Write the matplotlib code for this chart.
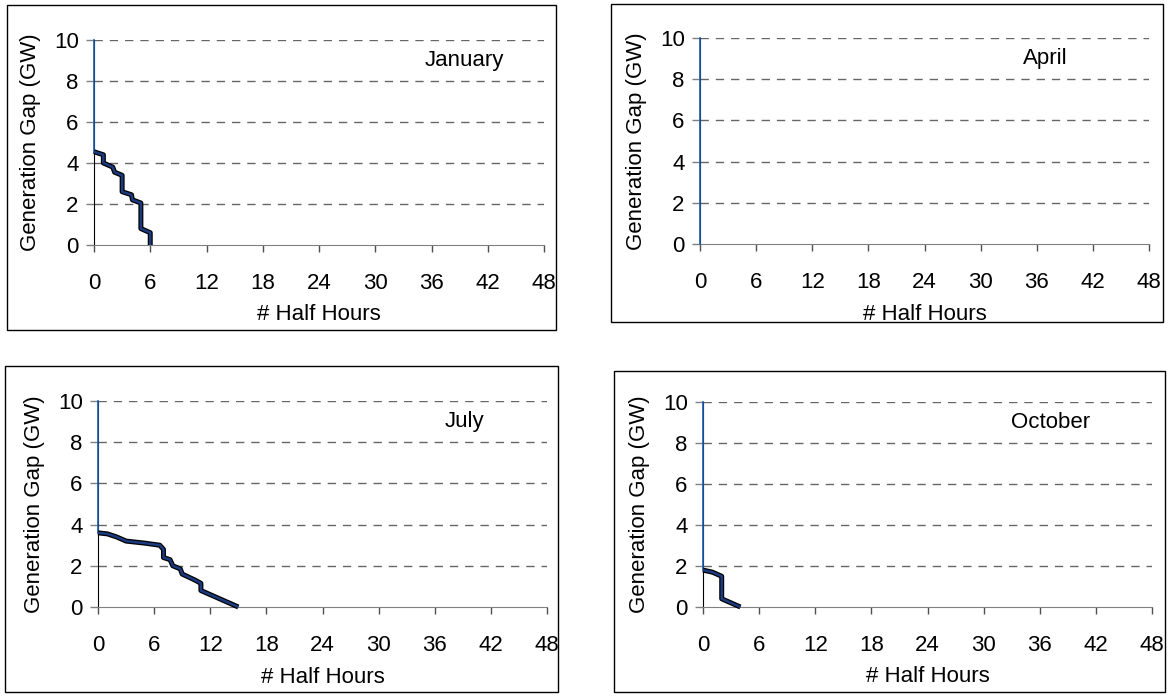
import matplotlib.pyplot as plt
from matplotlib.patches import Rectangle
import matplotlib.patheffects as pe

plt.rcParams['font.family'] = ['Liberation Sans', 'DejaVu Sans']

W, H = 1171, 697

# generation gap duration curves: half hours in which the gap is at least the given GW
jan_hh = [0, 0, 1, 1, 2, 2.2, 3, 3, 4, 4.1, 5, 5, 6, 6]
jan_gw = [10, 4.55, 4.4, 4.0, 3.8, 3.55, 3.4, 2.6, 2.45, 2.2, 2.05, 0.8, 0.6, 0]

apr_hh = [0, 0]
apr_gw = [10, 0]

jul_hh = [0, 0, 1, 2, 3, 5, 6.6, 7, 7, 7.7, 8, 8.8, 9, 10.4, 11, 11, 15]
jul_gw = [10, 3.6, 3.55, 3.4, 3.2, 3.1, 3.0, 2.8, 2.4, 2.3, 2.0, 1.85, 1.6, 1.3, 1.15, 0.8, 0]

oct_hh = [0, 0, 1, 2, 2, 3, 4]
oct_gw = [10, 1.8, 1.7, 1.5, 0.4, 0.2, 0]

months = ['January', 'April', 'July', 'October']
series = [(jan_hh, jan_gw), (apr_hh, apr_gw), (jul_hh, jul_gw), (oct_hh, oct_gw)]

x_ticks = [0, 6, 12, 18, 24, 30, 36, 42, 48]
y_ticks = [0, 2, 4, 6, 8, 10]

# pixel layout: axes (left, right, top, bottom), frame (left, top, right, bottom), title x
axes_px = [(94, 544, 40, 245), (700, 1149, 38, 244), (98, 547, 401, 607), (703, 1152, 402, 607)]
frame_px = [(7, 5, 556, 330), (611, 4, 1163, 322), (5, 366, 558, 692), (614, 371, 1165, 692)]
title_x = [0.824, 0.77, 0.817, 0.773]

fig = plt.figure(figsize=(W / 100, H / 100), dpi=100)

for i in range(4):
    l, r, t, b = axes_px[i]
    ax = fig.add_axes([l / W, 1 - b / H, (r - l) / W, (b - t) / H])
    fl, ft, fr, fb = frame_px[i]
    fig.patches.append(Rectangle((fl / W, 1 - fb / H), (fr - fl) / W, (fb - ft) / H,
                                 transform=fig.transFigure, fill=False, ec='black', lw=1))

    hh, gw = series[i]
    # thin segment along the axis, then the thick curve
    ax.plot(hh[:2], gw[:2], color='#1a5cb0', lw=1.2, zorder=3, clip_on=False)
    if len(hh) > 2:
        ax.plot(hh[1:], gw[1:], color='#1b3a80', lw=1.8, zorder=4, clip_on=False,
                solid_joinstyle='round', solid_capstyle='butt',
                path_effects=[pe.Stroke(linewidth=3.6, foreground='black'), pe.Normal()])

    ax.set_xlim(0, 48)
    ax.set_ylim(0, 10)
    ax.set_xticks(x_ticks)
    ax.set_yticks(y_ticks)
    for y in y_ticks[1:]:
        ax.axhline(y, color='#666666', lw=1, ls=(0, (6, 5)), zorder=1)

    for s in ['top', 'right']:
        ax.spines[s].set_visible(False)
    ax.spines['left'].set_color('black')
    ax.spines['bottom'].set_color('#808080')
    ax.spines['left'].set_zorder(2)
    ax.tick_params(axis='x', direction='out', length=5, width=1, color='#505050',
                   labelsize=16, pad=15)
    ax.tick_params(axis='y', direction='out', length=6, width=1, color='#808080',
                   labelsize=16, pad=5)

    ax.set_xlabel('# Half Hours', fontsize=16, va='center')
    ax.xaxis.set_label_coords(0.5, -0.34)
    ax.set_ylabel('Generation Gap (GW)', fontsize=16, va='center')
    ax.yaxis.set_label_coords(-0.142, 0.5)

    ax.text(title_x[i], 0.9, months[i], transform=ax.transAxes, fontsize=16,
            ha='center', va='center')

fig.savefig('out.png', dpi=100)
